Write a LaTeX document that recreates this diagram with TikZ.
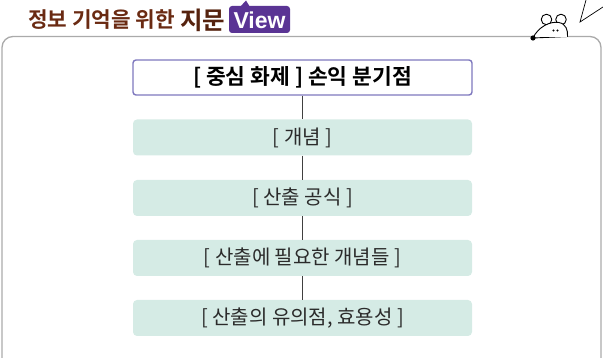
\documentclass[tikz,border=0pt]{standalone}
\usepackage{fontspec}
\newfontfamily\kr{Noto Sans CJK KR}
\newfontfamily\krb{Noto Sans CJK KR Bold}
\setmainfont{Liberation Sans}
\definecolor{titlebrown}{HTML}{6A2A12}
\definecolor{viewpurple}{HTML}{5A3494}
\definecolor{mainedge}{HTML}{7E78BE}
\definecolor{mint}{HTML}{D5EBE5}
\definecolor{framegray}{HTML}{AAAAAA}
\definecolor{txt}{HTML}{2B2B2B}
\tikzset{
  mainbox/.style={draw=mainedge, line width=1.4pt, fill=white, rounded corners=3pt,
    minimum width=339pt, minimum height=35pt, inner sep=0pt,
    font=\krb\fontsize{21.5}{21.5}\selectfont, text=black},
  topicbox/.style={fill=mint, rounded corners=4pt,
    minimum width=339pt, minimum height=36pt, inner sep=0pt,
    font=\kr\fontsize{20}{20}\selectfont, text=txt},
  link/.style={draw=black!75, line width=0.8pt},
  sketch/.style={draw=black, line width=0.9pt, line cap=round, line join=round}
}
\begin{document}
\begin{tikzpicture}[x=1pt, y=-1pt]
\useasboundingbox (0,0) rectangle (603,358);

% outer frame, open at the bottom
\draw[framegray, line width=1.3pt, rounded corners=11pt] (2,380) -- (2,36.5) -- (601,36.5) -- (601,380);

% heading
\node[anchor=west, inner sep=0pt, text=titlebrown, font=\krb\fontsize{21.3}{21.3}\selectfont] (head) at (28,20) {정보 기억을 위한};
\node[anchor=west, inner sep=0pt, text=titlebrown!80!black, font=\krb\fontsize{24.5}{24.5}\selectfont] (key) at (180,20) {지문};
\fill[viewpurple, rounded corners=3pt] (229,6) rectangle (290,33);
\fill[viewpurple] (240,7) -- (246,0.5) -- (250,7) -- cycle;
\node[inner sep=0pt, text=white, font=\bfseries\fontsize{23}{23}\selectfont] (view) at (259.5,20) {View};

% mouse peeking over the frame
\fill[white] (533,35) rectangle (568,37.5);
\draw[sketch, fill=white] (546.5,19.5) circle (5.3);
\draw[sketch, fill=white] (561,19.5) circle (5.3);
\draw[sketch, fill=white] (533,38) .. controls (538,27) and (550,21) .. (559,22.5)
  .. controls (566,24) and (568,30) .. (567.5,36.5) -- cycle;
\draw[white, line width=1.2pt] (535,36.8) -- (566.5,36.8);
\fill[black] (533,38) circle (2.6);
\fill[black] (553.5,30.5) circle (1.1);
\fill[black] (557.5,30.5) circle (1.1);
\draw[black, line width=0.7pt] (586,0) -- (580,22) -- (603,7);

% topic boxes
\node[mainbox] (center) at (302.5,77.5) {[ 중심 화제 ] 손익 분기점};
\node[topicbox] (t1) at (302.5,137.5) {[ 개념 ]};
\node[topicbox] (t2) at (302.5,198) {[ 산출 공식 ]};
\node[topicbox] (t3) at (302.5,258) {[ 산출에 필요한 개념들 ]};
\node[topicbox] (t4) at (302.5,318) {[ 산출의 유의점, 효용성 ]};

\draw[link] (center) -- (t1);
\draw[link] (t1) -- (t2);
\draw[link] (t2) -- (t3);
\draw[link] (t3) -- (t4);
\end{tikzpicture}
\end{document}
